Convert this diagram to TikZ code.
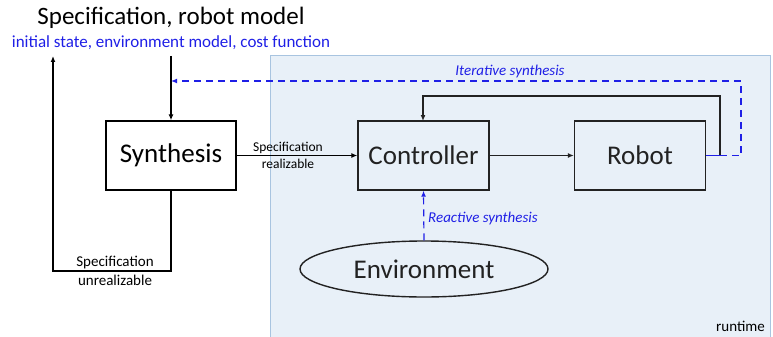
\documentclass[tikz,border=0pt]{standalone}
\usepackage{fontspec}
\setmainfont{Carlito}
\usetikzlibrary{arrows.meta,shapes.geometric}
\definecolor{rtfill}{HTML}{E8F0F8}
\definecolor{rtdraw}{HTML}{A8C4E0}
\definecolor{myblue}{HTML}{1F1FE6}
\definecolor{boxdraw}{HTML}{222222}
\tikzset{
  blk/.style={draw=black,line width=1.4pt,minimum width=130pt,minimum height=69pt,inner sep=0pt,font=\fontsize{27}{29}\selectfont},
  rblk/.style={draw=boxdraw,line width=1.4pt,minimum width=131pt,minimum height=69pt,inner sep=0pt,font=\fontsize{27}{29}\selectfont,text=boxdraw},
  arr/.style={line width=1.2pt,-{Latex[length=6pt,width=5pt]}},
  darr/.style={myblue,line width=1.2pt,dash pattern=on 7pt off 5pt,-{Latex[length=6pt,width=5pt]}},
  small/.style={font=\fontsize{15}{16}\selectfont,inner sep=0pt},
  blab/.style={font=\fontsize{15}{16}\selectfont\itshape,text=myblue,inner sep=0pt},
}
\begin{document}
\begin{tikzpicture}[x=1pt,y=-1pt]
\useasboundingbox (0,0) rectangle (773,337);
% runtime area
\path[fill=rtfill,draw=rtdraw,line width=1pt] (270,56) rectangle (770,345);
\node[small,anchor=base east] (rt) at (765,331) {runtime};
% title
\node[font=\fontsize{25}{27}\selectfont,inner sep=0pt] (title) at (171,18) {Specification, robot model};
\node[font=\fontsize{17}{19}\selectfont,text=myblue,inner sep=0pt] (sub) at (171,43) {initial state, environment model, cost function};
% boxes
\node[blk] (syn) at (171,155.5) {Synthesis};
\node[rblk] (ctl) at (423.5,155.5) {Controller};
\node[rblk] (rob) at (640,155.5) {Robot};
\node[draw=boxdraw,line width=1.4pt,ellipse,minimum width=248pt,minimum height=56pt,inner sep=0pt,font=\fontsize{27}{29}\selectfont,text=boxdraw] (env) at (424,269) {Environment};
% coordinates
\coordinate (tin) at (171,56);
\coordinate (tout) at (53,56);
\coordinate (bl) at (53,271);
\coordinate (br) at (171,271);
% arrows
\draw[arr] (tin) -- (syn.north);
\draw[line width=1.2pt,-{Latex[length=6pt,width=5pt]}] (syn.south) -- (br) -- (bl) -- (tout);
\node[small,anchor=base] (unr1) at (115,266) {Specification};
\node[small,anchor=base] (unr2) at (115,285) {unrealizable};
\draw[arr] (syn.east) -- (ctl.west);
\node[font=\fontsize{13.5}{14}\selectfont,inner sep=0pt,anchor=base] (re1) at (288,151) {Specification};
\node[font=\fontsize{13.5}{14}\selectfont,inner sep=0pt,anchor=base] (re2) at (288,168) {realizable};
\draw[arr,draw=boxdraw] (ctl.east) -- (rob.west);
\draw[arr,draw=boxdraw] (rob.east) -- (720,155.5) -- (720,96) -- (423,96) -- (423,121);
\draw[darr] (720,155.5) -- (741,155.5) -- (741,81) -- (171,81);
\draw[myblue,line width=1.2pt] (rob.east) -- (720,155.5);
\node[blab,anchor=base] (it) at (510,75) {Iterative synthesis};
\draw[darr] (env.north) -- (ctl.south);
\node[blab,anchor=base west] (re) at (428,222) {Reactive synthesis};
\end{tikzpicture}
\end{document}
